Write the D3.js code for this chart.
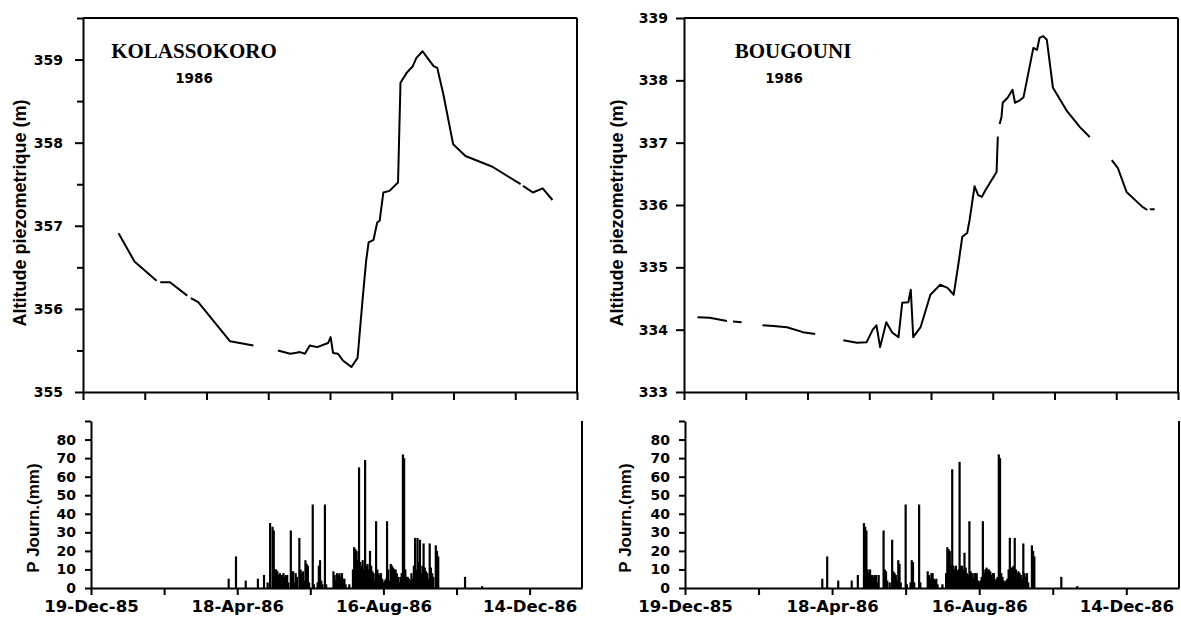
<!DOCTYPE html>
<html>
<head>
<meta charset="utf-8">
<script src="https://cdn.jsdelivr.net/npm/d3@7"></script>
<style>
  body { margin: 0; background: #fff; }
  svg text { font-family: "DejaVu Sans", sans-serif; font-weight: bold; fill: #000; }
</style>
</head>
<body>
<div id="chart"></div>
<script>
// Jours comptes a partir du 1-Jan-1986 (negatif = decembre 1985)
// Niveaux piezometriques [jour, altitude m], null = lacune
const kolaNiveau = [
  [16, 356.91], [29, 356.57], [47, 356.34], [49, null], [50, 356.32], [58, 356.32],
  [72, 356.16], [73, null], [75, 356.13], [81, 356.08], [107, 355.61], [126, 355.56],
  [127, null], [146, 355.50], [156, 355.46], [160, 355.47], [164, 355.48], [168, 355.46],
  [172, 355.56], [178, 355.54], [187, 355.59], [189, 355.66], [191, 355.47], [195, 355.46],
  [199, 355.38], [206, 355.30], [211, 355.41], [215, 356.10], [218, 356.58], [220, 356.80],
  [224, 356.83], [227, 357.04], [229, 357.06], [232, 357.40], [237, 357.42], [244, 357.52],
  [246, 358.72], [251, 358.84], [256, 358.92], [259, 359.02], [264, 359.10], [268, 359.02],
  [273, 358.92], [276, 358.90], [281, 358.58], [289, 357.98], [299, 357.84], [321, 357.71],
  [344, 357.50], [345, null], [346, 357.48], [354, 357.40], [362, 357.45], [370, 357.31]
];
const bougNiveau = [
  [-2, 334.20], [8, 334.19], [22, 334.14], [24, null], [27, 334.13], [34, 334.12], [36, null],
  [51, 334.07], [60, 334.06], [71, 334.04], [84, 333.96], [94, 333.93], [95, null],
  [117, 333.83], [128, 333.79], [136, 333.80], [141, 334.00], [144, 334.07], [147, 333.72],
  [152, 334.12], [157, 333.95], [162, 333.88], [165, 334.43], [170, 334.44], [172, 334.64],
  [174, 333.88], [180, 334.04], [188, 334.56], [196, 334.72], [202, 334.67], [207, 334.56],
  [211, 335.07], [214, 335.49], [218, 335.55], [220, 335.76], [224, 336.30], [227, 336.16],
  [230, 336.13], [233, 336.24], [237, 336.37], [242, 336.53], [243, 337.10], [243.5, null],
  [244.5, 337.30], [246, 337.41], [247, 337.64], [251, 337.72], [255, 337.85], [257, 337.64],
  [261, 337.68], [264, 337.73], [272, 338.52], [275, 338.49], [277, 338.68], [280, 338.71],
  [283, 338.65], [288, 337.88], [299, 337.52], [310, 337.25], [318, 337.09], [319, null],
  [336, 336.72], [341, 336.59], [348, 336.21], [361, 335.97], [365, 335.92], [366, null],
  [367, 335.93], [371, 335.93]
];

// Pluies journalieres [jour, mm]
const kolaPluie = [
  [100, 5], [106, 17], [114, 4], [124, 5], [129, 7], [132, 3], [134, 35], [136, 33], [137, 31],
  [138, 10], [139, 10], [140, 9], [141, 7], [142, 8], [143, 7], [144, 7], [145, 8], [146, 6],
  [147, 7], [148, 7], [149, 3], [151, 31], [152, 9], [153, 9], [154, 3], [155, 8], [156, 6],
  [158, 27], [159, 10], [160, 8], [161, 9], [162, 4], [163, 15], [164, 13], [165, 12], [166, 3],
  [169, 45], [170, 2], [173, 3], [174, 12], [175, 15], [176, 4], [177, 2], [179, 45], [180, 2],
  [186, 9], [187, 7], [188, 4], [189, 8], [190, 7], [191, 8], [192, 6], [193, 8], [194, 5],
  [195, 5], [196, 2], [199, 2], [202, 10], [203, 22], [204, 21], [205, 20], [206, 15], [207, 65],
  [208, 14], [209, 12], [210, 15], [211, 10], [212, 69], [213, 12], [214, 13], [215, 10],
  [216, 20], [217, 12], [218, 9], [219, 8], [220, 4], [221, 36], [222, 10], [223, 8], [224, 7],
  [225, 8], [226, 5], [227, 3], [228, 4], [229, 5], [230, 36], [231, 10], [232, 4], [233, 13],
  [234, 12], [235, 11], [236, 10], [237, 10], [238, 8], [239, 6], [240, 3], [241, 6], [242, 8],
  [243, 72], [244, 70], [245, 10], [246, 6], [247, 6], [248, 5], [249, 4], [250, 8], [251, 5],
  [252, 12], [253, 27], [254, 10], [255, 27], [256, 14], [257, 26], [258, 8], [259, 12],
  [260, 24], [261, 11], [262, 9], [263, 8], [264, 5], [265, 24], [266, 11], [267, 8], [268, 6],
  [270, 23], [271, 20], [272, 17], [294, 6], [308, 1]
];
const bougPluie = [
  [99, 5], [103, 17], [112, 4], [123, 4], [128, 7], [133, 35], [134, 33], [135, 31], [136, 10],
  [137, 8], [138, 10], [139, 7], [140, 7], [141, 6], [142, 7], [143, 7], [144, 3], [145, 7],
  [149, 31], [150, 10], [151, 9], [152, 4], [154, 3], [156, 26], [157, 9], [158, 8], [159, 7],
  [160, 4], [161, 15], [162, 13], [163, 3], [167, 45], [168, 2], [171, 3], [172, 15], [173, 14],
  [174, 3], [178, 45], [179, 3], [185, 9], [186, 7], [187, 5], [188, 8], [189, 8], [190, 5],
  [191, 4], [192, 5], [193, 2], [197, 2], [200, 8], [201, 22], [202, 21], [203, 20], [204, 12],
  [205, 64], [206, 12], [207, 10], [208, 12], [209, 9], [210, 10], [211, 68], [212, 12],
  [213, 12], [214, 10], [215, 19], [216, 11], [217, 8], [218, 7], [219, 36], [220, 9], [221, 8],
  [222, 5], [223, 8], [224, 8], [225, 8], [226, 4], [227, 3], [228, 4], [229, 6], [230, 36],
  [231, 8], [232, 10], [233, 11], [234, 10], [235, 10], [236, 9], [237, 7], [238, 8], [239, 8],
  [240, 4], [241, 5], [242, 6], [243, 72], [244, 70], [245, 8], [246, 6], [247, 4], [248, 3],
  [249, 4], [250, 5], [251, 10], [252, 27], [253, 11], [254, 11], [255, 12], [256, 27],
  [257, 10], [258, 8], [259, 9], [260, 8], [261, 7], [262, 5], [263, 24], [264, 8], [265, 6],
  [266, 8], [267, 3], [270, 23], [271, 20], [272, 17], [294, 6], [307, 1]
];

// Axes
const jourDebut = -13;   // 19-Dec-85
const jourFin = 390;     // fin du graphique
const xTickJours = [-13, 47, 107, 167, 227, 287, 347];
const xTickLabels = ["19-Dec-85", "", "18-Apr-86", "", "16-Aug-86", "", "14-Dec-86"];
const pluieTicks = [0, 10, 20, 30, 40, 50, 60, 70, 80, 90];
const kolaTicks = [355, 355.5, 356, 356.5, 357, 357.5, 358, 358.5, 359, 359.5];
const bougTicks = [333, 334, 335, 336, 337, 338, 339];

const jan1 = new Date(1986, 0, 1);
const toDate = j => d3.timeDay.offset(jan1, Math.floor(j)).getTime() + (j - Math.floor(j)) * 864e5;

const svg = d3.select("#chart")
  .append("svg")
  .attr("width", 1181)
  .attr("height", 618);

const stations = [
  { nom: "KOLASSOKORO", annee: "1986", niveau: kolaNiveau, pluie: kolaPluie,
    yDom: [355, 359.5], yTicks: kolaTicks, labelPad: 12,
    top: [83, 577], bot: [91, 582], nomX: 194, anneeX: 194, titreX: 20, pTitreX: 33 },
  { nom: "BOUGOUNI", annee: "1986", niveau: bougNiveau, pluie: bougPluie,
    yDom: [333, 339], yTicks: bougTicks, labelPad: 8,
    top: [684, 1178], bot: [685, 1179], nomX: 793, anneeX: 784, titreX: 617, pTitreX: 625 }
];

const styleAxis = g => {
  g.select(".domain").attr("stroke", "#000").attr("stroke-width", 2);
  g.selectAll(".tick line").attr("stroke", "#000").attr("stroke-width", 2);
  g.selectAll(".tick text").attr("fill", "#000");
};

const drawStation = st => {
  const debut = new Date(toDate(jourDebut)), fin = new Date(toDate(jourFin));

  // ---- Niveau piezometrique (haut) ----
  const topY0 = 392, topY1 = 18;
  const xTop = d3.scaleTime().domain([debut, fin]).range(st.top);
  const yTop = d3.scaleLinear().domain(st.yDom).range([topY0, topY1]);

  // 8 intervalles egaux, sans etiquettes
  const topTicks = d3.range(9).map(i => new Date(+debut + i * (fin - debut) / 8));

  svg.append("g")
    .attr("transform", `translate(0,${topY0})`)
    .call(d3.axisBottom(xTop).tickValues(topTicks).tickSize(8).tickSizeOuter(0).tickFormat(""))
    .call(styleAxis);

  const yAxisTop = svg.append("g")
    .attr("transform", `translate(${st.top[0]},0)`)
    .call(d3.axisLeft(yTop).tickValues(st.yTicks).tickSize(8).tickSizeOuter(0)
      .tickPadding(st.labelPad)
      .tickFormat(d => Number.isInteger(d) ? d : ""))
    .call(styleAxis);
  yAxisTop.selectAll(".tick text").style("font-size", "14px");
  yAxisTop.selectAll(".tick line").filter(d => !Number.isInteger(d)).attr("x2", -6);

  // cadre haut et droit
  svg.append("line")
    .attr("x1", st.top[0]).attr("x2", st.top[1])
    .attr("y1", yTop(st.yDom[1])).attr("y2", yTop(st.yDom[1]))
    .attr("stroke", "#000").attr("stroke-width", 2);
  svg.append("line")
    .attr("x1", st.top[1]).attr("x2", st.top[1])
    .attr("y1", topY1).attr("y2", topY0)
    .attr("stroke", "#000").attr("stroke-width", 2);

  const ligne = d3.line()
    .defined(d => d[1] != null)
    .x(d => xTop(toDate(d[0])))
    .y(d => yTop(d[1]));

  svg.append("path")
    .datum(st.niveau)
    .attr("d", ligne)
    .attr("fill", "none")
    .attr("stroke", "#000")
    .attr("stroke-width", 2)
    .attr("stroke-linejoin", "round");

  svg.append("text")
    .attr("x", st.nomX).attr("y", 58)
    .attr("text-anchor", "middle")
    .style("font-family", "'Liberation Serif', serif")
    .style("font-size", "21px")
    .text(st.nom);
  svg.append("text")
    .attr("x", st.anneeX).attr("y", 83)
    .attr("text-anchor", "middle")
    .style("font-size", "13.5px")
    .text(st.annee);

  svg.append("text")
    .attr("transform", `translate(${st.titreX},213) rotate(-90)`)
    .attr("text-anchor", "middle")
    .attr("dominant-baseline", "central")
    .style("font-family", "'Liberation Sans', sans-serif")
    .style("font-size", "18px")
    .text("Altitude piezometrique (m)");

  // ---- Pluie journaliere (bas) ----
  const botY0 = 588;
  const xBot = d3.scaleTime().domain([debut, fin]).range(st.bot);
  const yBot = d3.scaleLinear().domain([0, 90]).range([botY0, 421]);

  svg.append("g")
    .selectAll("rect")
    .data(st.pluie)
    .join("rect")
    .attr("x", d => xBot(toDate(d[0])) - 1.1)
    .attr("y", d => yBot(d[1]))
    .attr("width", 2.2)
    .attr("height", d => botY0 - yBot(d[1]))
    .attr("fill", "#000");

  const xAxisBot = svg.append("g")
    .attr("transform", `translate(0,${botY0})`)
    .call(d3.axisBottom(xBot).tickValues(xTickJours.map(j => new Date(toDate(j))))
      .tickSize(7).tickSizeOuter(0).tickPadding(5)
      .tickFormat((d, i) => xTickLabels[i]))
    .call(styleAxis);
  xAxisBot.selectAll(".tick text").style("font-size", "16.5px");

  const yAxisBot = svg.append("g")
    .attr("transform", `translate(${st.bot[0]},0)`)
    .call(d3.axisLeft(yBot).tickValues(pluieTicks).tickSize(6).tickSizeOuter(0)
      .tickPadding(9)
      .tickFormat(d => d < 90 ? d : ""))
    .call(styleAxis);
  yAxisBot.selectAll(".tick text").style("font-size", "14px");

  svg.append("line")
    .attr("x1", st.bot[1]).attr("x2", st.bot[1])
    .attr("y1", yBot(90)).attr("y2", botY0)
    .attr("stroke", "#000").attr("stroke-width", 2);

  svg.append("text")
    .attr("transform", `translate(${st.pTitreX},518) rotate(-90)`)
    .attr("text-anchor", "middle")
    .attr("dominant-baseline", "central")
    .style("font-family", "'Liberation Sans', sans-serif")
    .style("font-size", "17px")
    .text("P Journ.(mm)");
};

stations.forEach(drawStation);
</script>
</body>
</html>
